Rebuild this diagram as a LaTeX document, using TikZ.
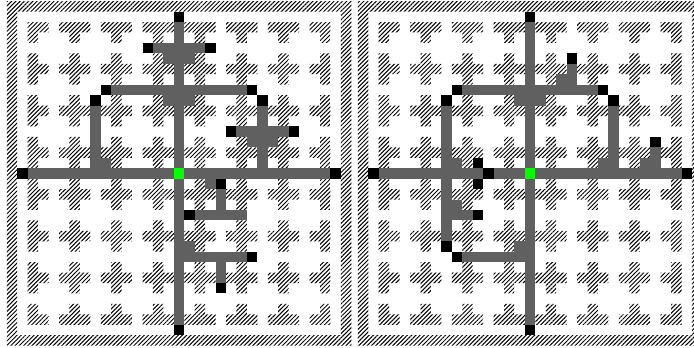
\documentclass[tikz,border=0pt]{standalone}
\usetikzlibrary{patterns.meta}
\definecolor{trace}{RGB}{96,96,96}
\definecolor{srcgreen}{RGB}{0,255,0}
\tikzset{
  hatch/.style={pattern={Lines[angle=45,distance=3pt,line width=1.0pt]},pattern color=black},
}
\def\gu{10.44}
% horizontal run: row, first col, last col
\newcommand{\trH}[3]{\fill[trace] ({\ox+#2*\gu},{\oy+#1*\gu}) rectangle ({\ox+(#3+1)*\gu},{\oy+(#1+1)*\gu});}
% vertical run: col, first row, last row
\newcommand{\trV}[3]{\fill[trace] ({\ox+#1*\gu},{\oy+#2*\gu}) rectangle ({\ox+(#1+1)*\gu},{\oy+(#3+1)*\gu});}
\newcommand{\pinB}[2]{\fill[black] ({\ox+#1*\gu},{\oy+#2*\gu}) rectangle ({\ox+(#1+1)*\gu},{\oy+(#2+1)*\gu});}
\newcommand{\srcG}[2]{\fill[srcgreen] ({\ox+#1*\gu},{\oy+#2*\gu}) rectangle ({\ox+(#1+1)*\gu},{\oy+(#2+1)*\gu});}
\newcommand{\gridpanel}{%
  \fill[hatch,even odd rule] ({\ox-\gu},{\oy-\gu}) rectangle ({\ox+32*\gu},{\oy+32*\gu})
     (\ox,\oy) rectangle ({\ox+31*\gu},{\oy+31*\gu});
  \begin{scope}
    \clip ({\ox+\gu},{\oy+\gu}) rectangle ({\ox+30*\gu},{\oy+30*\gu});
    \foreach \i in {1,5,...,29}{\foreach \j in {1,5,...,29}{
      \fill[hatch] ({\ox+(\i-1)*\gu},{\oy+\j*\gu}) rectangle ({\ox+(\i+2)*\gu},{\oy+(\j+1)*\gu})
                   ({\ox+\i*\gu},{\oy+(\j-1)*\gu}) rectangle ({\ox+(\i+1)*\gu},{\oy+(\j+2)*\gu});
    }}
  \end{scope}}
\begin{document}
\begin{tikzpicture}[x=1pt,y=-1pt]
\useasboundingbox (0,0) rectangle (694,348);
\clip (0,0) rectangle (694,348);
\fill[white] (0,0) rectangle (694,348);

% ---------- left panel ----------
\def\ox{17.24}\def\oy{11.6}
\gridpanel
\trH{15}{1}{29} \trV{15}{1}{29}
\trH{3}{13}{17} \trH{4}{14}{16}
\trH{7}{9}{21} \trH{8}{14}{16}
\trV{7}{9}{14} \trH{14}{8}{8}
\trV{23}{9}{14}
\trH{11}{21}{25} \trH{12}{22}{24}
\trH{16}{18}{18} \trV{19}{17}{18}
\trH{19}{17}{21}
\trH{22}{16}{16}
\trH{23}{16}{21}
\trV{19}{24}{25}
\foreach \a/\b in {15/0,15/30,0/15,30/15,12/3,18/3,8/7,22/7,7/8,23/8,20/11,26/11,19/16,16/19,22/23,19/26}{\pinB{\a}{\b}}
\srcG{15}{15}

% ---------- right panel ----------
\def\ox{368.3}\def\oy{11.6}
\gridpanel
\trH{15}{1}{29} \trV{15}{1}{29}
\trH{7}{9}{21} \trH{8}{14}{16}
\trV{7}{9}{21} \trH{14}{8}{8}
\trH{23}{9}{14} \trH{22}{14}{14}
\trV{8}{18}{19} \trH{19}{9}{9}
\trV{19}{5}{6} \trH{6}{18}{18}
\trV{23}{9}{14} \trH{14}{22}{22}
\trV{27}{13}{14} \trH{14}{26}{26}
\foreach \a/\b in {15/0,15/30,0/15,30/15,11/15,8/7,22/7,7/8,23/8,10/14,10/16,10/19,7/22,8/23,19/4,27/12}{\pinB{\a}{\b}}
\srcG{15}{15}
\end{tikzpicture}
\end{document}
